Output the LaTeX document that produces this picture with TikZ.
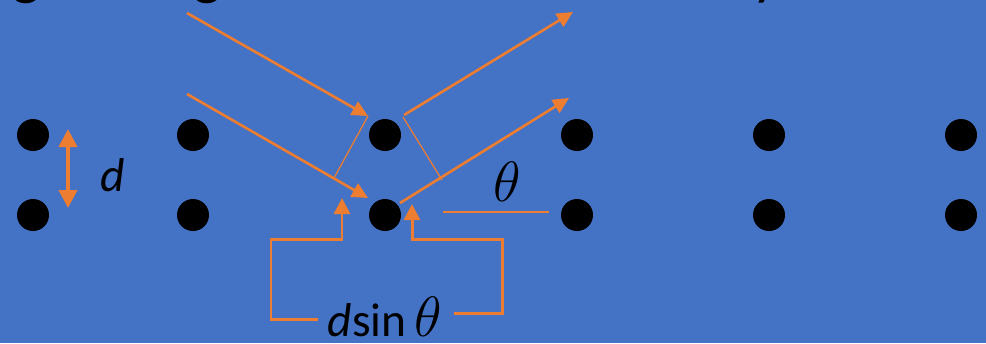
\documentclass[tikz,border=0pt]{standalone}
\usepackage{fontspec}
\setmainfont{Carlito}
\usetikzlibrary{positioning,arrows.meta}
\definecolor{slideblue}{HTML}{4472C4}
\definecolor{beamorange}{HTML}{ED7D31}

\newcommand{\bigtheta}{\scalebox{1.3}{$\theta$}}

\begin{document}
\begin{tikzpicture}[
    x=0.02cm, y=-0.02cm,
    atom/.style={circle, fill=black, minimum size=0.64cm, inner sep=0pt},
    beam/.style={-{Triangle[length=0.32cm, width=0.3cm]}, beamorange, line width=1.5pt},
    guide/.style={beamorange, line width=0.7pt},
    bracket/.style={-{Triangle[length=0.32cm, width=0.32cm]}, beamorange, line width=1.7pt},
    spacing/.style={{Triangle[length=0.36cm, width=0.36cm]}-{Triangle[length=0.36cm, width=0.36cm]}, beamorange, line width=2.3pt},
    lbl/.style={font=\fontsize{24.88}{30}\selectfont, inner sep=0pt},
    title/.style={font=\fontsize{34}{40}\selectfont, inner sep=0pt}
]
    % Slide background
    \fill[slideblue] (0,0) rectangle (986,343);
    \useasboundingbox (0,0) rectangle (986,343);
    \clip (0,0) rectangle (986,343);

    % Title (cut off at the top)
    \node[title, anchor=base] (titleg1) at (27,-7) {g};
    \node[title, anchor=base] (titleg2) at (208,-7) {g};
    \node[title, anchor=base] (titley) at (766,-7) {y};

    % Lattice of atoms
    \foreach \col/\x in {1/33, 2/193, 3/385, 4/577, 5/769, 6/961} {
        \node[atom] (top\col) at (\x,135) {};
        \node[atom] (bot\col) at (\x,215) {};
    }

    % Plane spacing
    \coordinate (dtop) at (68,129);
    \coordinate (dbot) at (68,208);
    \draw[spacing] (dtop) -- (dbot);
    \node[lbl, font=\fontsize{27}{30}\selectfont] (dlabel) at (113,175) {\textit{d}};

    % Incoming and reflected beams
    \coordinate (in1) at (187,13);
    \coordinate (in2) at (187,94);
    \coordinate (hit1) at (368,116);
    \coordinate (hit2) at (368,198);
    \coordinate (out1) at (404,115);
    \coordinate (out2) at (400,203);
    \coordinate (end1) at (573,12);
    \coordinate (end2) at (569,98);
    \draw[beam] (in1) -- (hit1);
    \draw[beam] (in2) -- (hit2);
    \draw[beam] (out1) -- (end1);
    \draw[beam] (out2) -- (end2);

    % Wavefronts
    \coordinate (foot1) at (334,178);
    \coordinate (kink2) at (403,117);
    \coordinate (foot2) at (442,180);
    \draw[guide] (hit1) -- (foot1);
    \draw[guide] (kink2) -- (foot2);

    % Angle
    \coordinate (flat1) at (443,212);
    \coordinate (flat2) at (549,212);
    \draw[guide] (flat1) -- (flat2);
    \node[lbl] (theta) at (507,182) {\bigtheta};

    % Path difference
    \node[lbl, font=\fontsize{27}{30}\selectfont] (pathdiff) at (385,317) {\textit{d}sin\,\bigtheta};
    \coordinate (lstart) at (318,319);
    \coordinate (lcorner) at (271,239);
    \coordinate (ltip) at (342,198);
    \coordinate (rstart) at (454,313);
    \coordinate (rcorner) at (502,239);
    \coordinate (rtip) at (412,204);
    \draw[bracket] (lstart) -| (lcorner) -| (ltip);
    \draw[bracket] (rstart) -| (rcorner) -| (rtip);
\end{tikzpicture}
\end{document}
